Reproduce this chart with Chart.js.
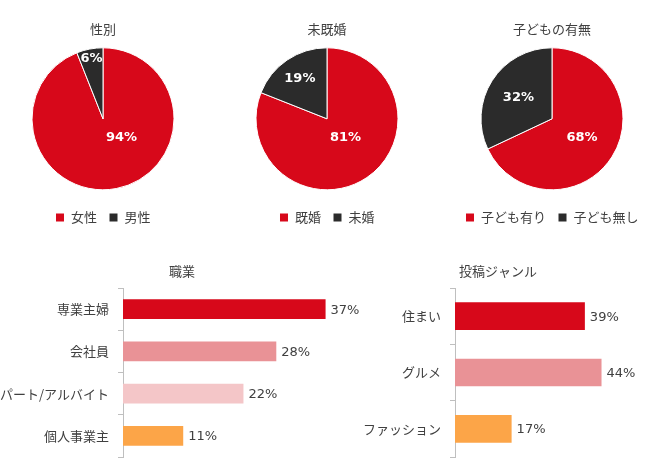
<!DOCTYPE html>
<html>
<head>
<meta charset="utf-8">
<script src="https://cdn.jsdelivr.net/npm/chart.js@4"></script>
<style>
  body { margin: 0; width: 650px; height: 465px; background: #fff; position: relative; overflow: hidden; }
  canvas { position: absolute; }
</style>
</head>
<body>
<canvas id="genderChart" width="200" height="240" style="left:3px;top:0"></canvas>
<canvas id="marriageChart" width="200" height="240" style="left:227px;top:0"></canvas>
<canvas id="childChart" width="200" height="240" style="left:452px;top:0"></canvas>
<canvas id="jobChart" width="364" height="210" style="left:0;top:255px"></canvas>
<canvas id="genreChart" width="304" height="210" style="left:346px;top:255px"></canvas>
<script>
// data
const genderLabels = ['女性', '男性'];
const genderValues = [94, 6];
const marriageLabels = ['既婚', '未婚'];
const marriageValues = [81, 19];
const childLabels = ['子ども有り', '子ども無し'];
const childValues = [68, 32];
const jobLabels = ['専業主婦', '会社員', 'パート/アルバイト', '個人事業主'];
const jobValues = [37, 28, 22, 11];
const genreLabels = ['住まい', 'グルメ', 'ファッション'];
const genreValues = [39, 44, 17];

const RED = '#d7081a';
const DARK = '#2b2b2b';
const PINK = '#e99296';
const LIGHT_PINK = '#f4c6c8';
const ORANGE = '#fca548';
const TEXT = '#404040';
const CJK = '"Noto Sans CJK JP", sans-serif';
const NUM = '"DejaVu Sans", sans-serif';

// percentage labels inside the pie slices
const pieLabels = {
  id: 'pieLabels',
  afterDatasetsDraw(chart) {
    const { ctx } = chart;
    const data = chart.data.datasets[0].data;
    const total = data.reduce((a, b) => a + b, 0);
    ctx.save();
    ctx.font = 'bold 13px ' + NUM;
    ctx.fillStyle = '#fff';
    ctx.textAlign = 'center';
    ctx.textBaseline = 'middle';
    chart.getDatasetMeta(0).data.forEach((arc, i) => {
      const frac = data[i] / total;
      let angle = (arc.startAngle + arc.endAngle) / 2;
      let ratio;
      if (frac < 0.1) ratio = 0.86;
      else if (frac < 0.25) ratio = 0.68;
      else if (frac < 0.5) ratio = 0.56;
      else if (frac < 0.75) ratio = 0.5;
      else { ratio = 0.37; angle = Math.PI / 4; }
      const r = arc.outerRadius * ratio;
      ctx.fillText(data[i] + '%', arc.x + Math.cos(angle) * r, arc.y + Math.sin(angle) * r);
    });
    ctx.restore();
  }
};

// value labels at the end of the bars
const barLabels = {
  id: 'barLabels',
  afterDatasetsDraw(chart) {
    const { ctx } = chart;
    const data = chart.data.datasets[0].data;
    ctx.save();
    ctx.font = '13px ' + NUM;
    ctx.fillStyle = TEXT;
    ctx.textAlign = 'left';
    ctx.textBaseline = 'middle';
    chart.getDatasetMeta(0).data.forEach((bar, i) => {
      ctx.fillText(data[i] + '%', bar.x + 5, bar.y + 1);
    });
    ctx.restore();
  }
};

// bar chart titles are centred on the whole canvas, not only the plot area
const canvasTitle = {
  id: 'canvasTitle',
  afterDraw(chart, args, opts) {
    const { ctx } = chart;
    ctx.save();
    ctx.font = '13px ' + CJK;
    ctx.fillStyle = TEXT;
    ctx.textAlign = 'center';
    ctx.textBaseline = 'middle';
    ctx.fillText(opts.text, chart.width / 2, 16);
    ctx.restore();
  }
};

function makePie(id, title, labels, values) {
  return new Chart(document.getElementById(id), {
    type: 'pie',
    data: {
      labels: labels,
      datasets: [{ data: values, backgroundColor: [RED, DARK], borderColor: '#fff', borderWidth: 1, radius: 71 }]
    },
    options: {
      responsive: false,
      animation: false,
      layout: { padding: { bottom: 6 } },
      plugins: {
        title: { display: true, text: title, color: TEXT, font: { family: CJK, size: 13, weight: 'normal' }, padding: { top: 21, bottom: 2 } },
        legend: {
          position: 'bottom',
          labels: { color: TEXT, font: { family: CJK, size: 13 }, boxWidth: 9, boxHeight: 9, padding: 12 }
        },
        tooltip: { enabled: false }
      }
    },
    plugins: [pieLabels]
  });
}

function makeBar(id, title, labels, values, colors, max, axisWidth, padRight, barPct) {
  return new Chart(document.getElementById(id), {
    type: 'bar',
    data: {
      labels: labels,
      datasets: [{ data: values, backgroundColor: colors, categoryPercentage: 1, barPercentage: barPct }]
    },
    options: {
      indexAxis: 'y',
      responsive: false,
      animation: false,
      layout: { padding: { top: 33, right: padRight, bottom: 8 } },
      scales: {
        x: { display: false, min: 0, max: max },
        y: {
          afterFit: (scale) => {
            scale.width = axisWidth;
            scale.paddingTop = 0;
            scale.paddingBottom = 0;
          },
          grid: { offset: true, drawOnChartArea: false, drawTicks: true, tickLength: 5, color: '#bfbfbf' },
          border: { display: true, color: '#bfbfbf' },
          ticks: { color: TEXT, font: { family: CJK, size: 13 }, padding: 9 }
        }
      },
      plugins: {
        title: { display: false },
        canvasTitle: { text: title },
        legend: { display: false },
        tooltip: { enabled: false }
      }
    },
    plugins: [barLabels, canvasTitle]
  });
}

makePie('genderChart', '性別', genderLabels, genderValues);
makePie('marriageChart', '未既婚', marriageLabels, marriageValues);
makePie('childChart', '子どもの有無', childLabels, childValues);
makeBar('jobChart', '職業', jobLabels, jobValues, [RED, PINK, LIGHT_PINK, ORANGE], 40, 123, 22, 0.47);
makeBar('genreChart', '投稿ジャンル', genreLabels, genreValues, [RED, PINK, ORANGE], 50, 109, 28.5, 0.49);
</script>
</body>
</html>
